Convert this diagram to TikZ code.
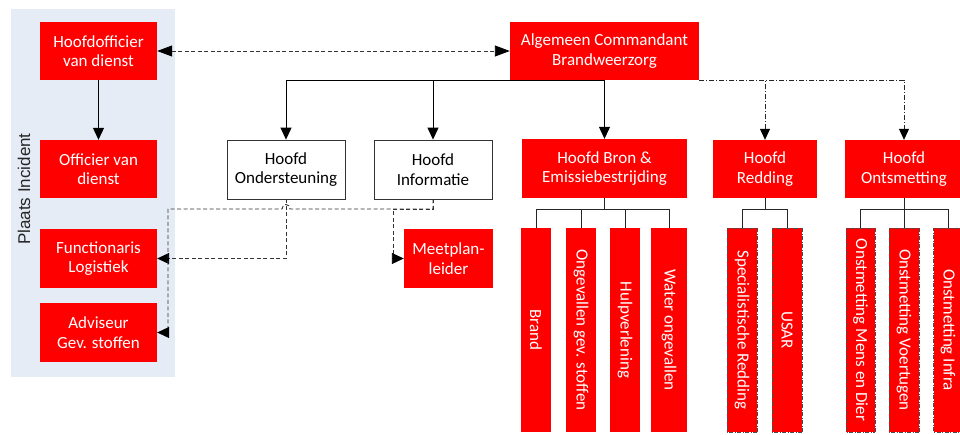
\documentclass[tikz,border=0pt]{standalone}
\usepackage{fontspec}
\setmainfont{Carlito}
\newfontfamily\arialfont{Liberation Sans}
\usetikzlibrary{arrows.meta}
\definecolor{panelblue}{RGB}{229,236,246}
\definecolor{boxred}{RGB}{255,0,0}
\tikzset{
  boxfont/.style={font=\fontsize{17}{19.5}\selectfont},
  redbox/.style={boxfont, fill=boxred, text=white, inner sep=0pt, align=center},
  whitebox/.style={boxfont, draw=black!80, line width=0.8pt, fill=white, text=black, inner sep=0pt, align=center},
  subbox/.style={boxfont, fill=boxred, text=white, rotate=-90, inner sep=0pt, minimum width=204pt},
  dsubbox/.style={subbox, draw=black!70, line width=0.6pt, dash pattern=on 4pt off 1.5pt on 1pt off 1.5pt},
  solidarrow/.style={draw=black, line width=1pt, -{Triangle[length=12pt,width=11pt]}},
  dasharrow/.style={draw=black!80, line width=0.9pt, dash pattern=on 4pt off 2.5pt, -{Triangle[length=12pt,width=11pt,color=black]}},
  ddarrow/.style={draw=black!85, line width=0.8pt, dash pattern=on 5pt off 2pt on 1pt off 2pt, -{Triangle[length=11pt,width=10pt,color=black]}},
  treeline/.style={draw=black!85, line width=0.9pt},
}
\begin{document}
\begin{tikzpicture}[x=1pt,y=-1pt]
\useasboundingbox (0,0) rectangle (960,434);
\fill[panelblue] (11,9) rectangle (175,377);
\node[font=\arialfont\fontsize{17}{20}\selectfont, rotate=90, text=black!85] (plaats) at (24,189) {Plaats Incident};

% left column
\node[redbox, minimum width=117pt, minimum height=58pt] (hod) at (98.5,51) {Hoofdofficier\\van dienst};
\node[redbox, minimum width=117pt, minimum height=58pt] (ovd) at (98.5,169) {Officier van\\dienst};
\node[redbox, minimum width=117pt, minimum height=59pt] (fl) at (98.5,258.5) {Functionaris\\Logistiek};
\node[redbox, minimum width=117pt, minimum height=59pt] (adv) at (98.5,332.5) {Adviseur\\Gev. stoffen};

% top
\node[redbox, minimum width=189pt, minimum height=58pt] (ac) at (604.5,51) {Algemeen Commandant\\Brandweerzorg};

% second row
\node[whitebox, minimum width=118pt, minimum height=59pt] (hond) at (286,169.5) {Hoofd\\Ondersteuning};
\node[whitebox, minimum width=118pt, minimum height=59pt] (hinf) at (433,169.5) {Hoofd\\Informatie};
\node[redbox, minimum width=165pt, minimum height=59pt] (hbron) at (604.5,168.5) {Hoofd Bron \&\\Emissiebestrijding};
\node[redbox, minimum width=104pt, minimum height=58pt] (hred) at (765,169) {Hoofd\\Redding};
\node[redbox, minimum width=118pt, minimum height=58pt] (hont) at (904,169) {Hoofd\\Ontsmetting};
\node[redbox, minimum width=89pt, minimum height=59pt] (meet) at (448.5,258.5) {Meetplan-\\leider};

% sub boxes
\node[subbox, minimum height=30pt] (brand) at (536,330) {Brand};
\node[subbox, minimum height=30pt] (ongev) at (581,330) {Ongevallen gev. stoffen};
\node[subbox, minimum height=30pt] (hulp) at (625,330) {Hulpverlening};
\node[subbox, minimum height=36pt] (water) at (669,330) {Water ongevallen};
\node[dsubbox, minimum height=30pt] (spec) at (742,330) {Specialistische Redding};
\node[dsubbox, minimum height=30pt] (usar) at (787,330) {USAR};
\node[dsubbox, minimum height=29pt] (mens) at (860.5,330) {Onstmetting Mens en Dier};
\node[dsubbox, minimum height=30pt] (voert) at (904,330) {Onstmetting Voertugen};
\node[dsubbox, minimum height=29pt] (infra) at (948,330) {Onstmetting Infra};

% helper coordinates
\coordinate (bus) at (0,209);
\coordinate (hopR) at (290,209);
\coordinate (hopL) at (282,209);
\coordinate (lcol) at (168,209);
\coordinate (mcol) at (393,209);

% solid connectors
\draw[solidarrow] (hod.south) -- (ovd.north);
\draw[solidarrow] (ac.south) -| (hond.north);
\draw[solidarrow] (ac.south) -| (hinf.north);
\draw[solidarrow] (ac.south) -- (hbron.north);

% dash-dot connectors
\draw[ddarrow] (ac.south east) -| (hred.north);
\draw[ddarrow] (ac.south east) -| (hont.north);

% dashed connectors
\draw[dasharrow, {Triangle[length=15pt,width=11pt,color=black]}-{Triangle[length=15pt,width=11pt,color=black]}] (hod.east) -- (ac.west);
\draw[dasharrow] (hond.south) |- (fl.east);
\draw[dasharrow] (hinf.south) |- (hopR) .. controls +(0,-6) and +(0,-6) .. (hopL) -- (lcol) |- (adv.east);
\draw[dasharrow] (hinf.south) |- (mcol) |- (meet.west);

% trees
\foreach \s in {brand,ongev,hulp,water}
  \draw[treeline] (hbron.south) -- (hbron.south|-bus) -| (\s.west);
\foreach \s in {spec,usar}
  \draw[treeline] (hred.south) -- (hred.south|-bus) -| (\s.west);
\foreach \s in {mens,voert,infra}
  \draw[treeline] (hont.south) -- (hont.south|-bus) -| (\s.west);
\end{tikzpicture}
\end{document}
